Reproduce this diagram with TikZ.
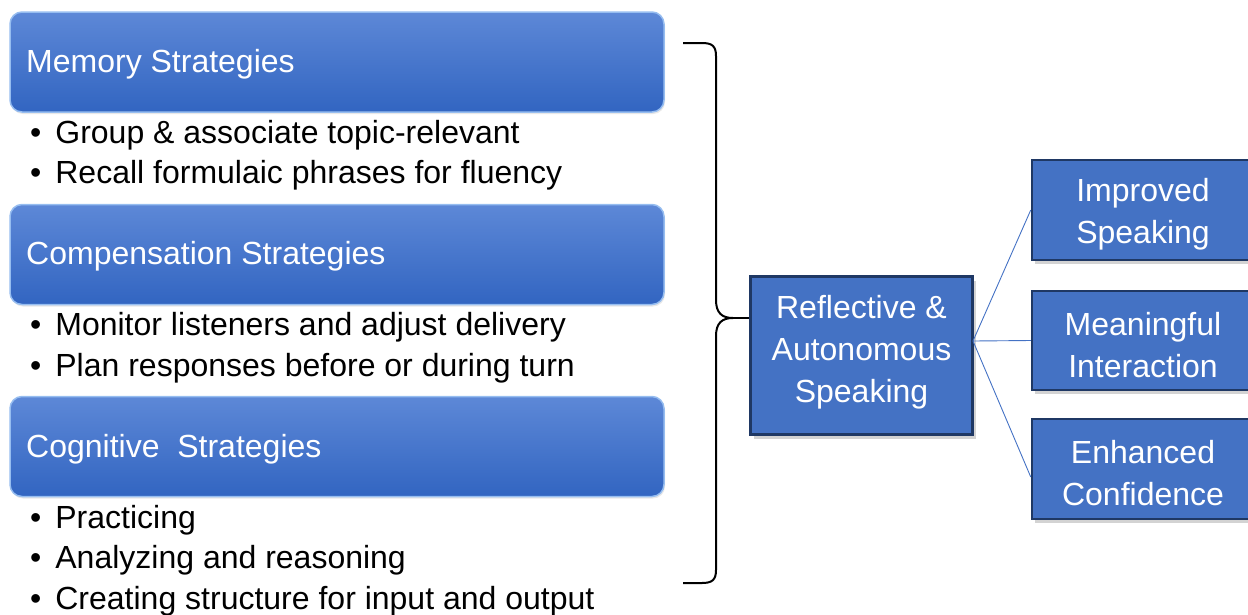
\documentclass[tikz,border=0pt]{standalone}
\usepackage{fontspec}
\setmainfont{Liberation Sans}
\usetikzlibrary{calc,shadows,fadings}
\definecolor{hdtop}{HTML}{5D88D7}
\definecolor{hdbot}{HTML}{3265C1}
\definecolor{hdrim}{HTML}{96BDF0}
\definecolor{accent}{HTML}{4472C4}
\definecolor{navy}{HTML}{1F3864}
\tikzset{
  header/.style={draw=hdrim, line width=1.5pt, rounded corners=12pt, top color=hdtop, bottom color=hdbot,
    minimum width=654pt, minimum height=100pt, inner sep=0pt,
    drop shadow={opacity=0.18, shadow xshift=1pt, shadow yshift=-2pt}},
  htext/.style={text=white, anchor=base west, inner sep=0pt, font=\fontsize{32}{36}\selectfont},
  btext/.style={text=black, anchor=base west, inner sep=0pt, font=\fontsize{32}{36}\selectfont},
  outbox/.style={draw=navy, line width=2.5pt, fill=accent, inner sep=0pt,
    drop shadow={opacity=0.35, shadow xshift=3pt, shadow yshift=-4pt}},
  wtext/.style={text=white, align=center, inner sep=0pt, font=\fontsize{32}{42}\selectfont},
  link/.style={draw=accent, line width=0.9pt},
  bracestyle/.style={draw=black, line width=2pt, line join=round},
}
\begin{document}
\begin{tikzpicture}[x=1pt,y=-1pt]
\useasboundingbox (0,0) rectangle (1248,614);
% left headers
\node[header] (h1) at (337,62) {};
\node[header] (h2) at (337,254.5) {};
\node[header] (h3) at (337,446.5) {};
\node[htext] (h1t) at (26,72) {Memory Strategies};
\node[htext] (h2t) at (26,264) {Compensation Strategies};
\node[htext] (h3t) at (26,457) {Cognitive\ \ Strategies};
% bullets
\node[btext] (b1) at (30,143) {•\hspace{14pt}Group \& associate topic-relevant};
\node[btext] (b2) at (30,183) {•\hspace{14pt}Recall formulaic phrases for fluency};
\node[btext] (b3) at (30,335) {•\hspace{14pt}Monitor listeners and adjust delivery};
\node[btext] (b4) at (30,376) {•\hspace{14pt}Plan responses before or during turn};
\node[btext] (b5) at (30,528) {•\hspace{14pt}Practicing};
\node[btext] (b6) at (30,568) {•\hspace{14pt}Analyzing and reasoning};
\node[btext] (b7) at (30,609) {•\hspace{14pt}Creating structure for input and output};
% central box
\fill[white] (757,434) rectangle (963,443);
\node[outbox, minimum width=222pt, minimum height=158pt] (rs) at (861.5,355.5) {};
\node[wtext] (rst) at (861.5,352) {Reflective \&\\Autonomous\\Speaking};
% right boxes
\node[outbox, minimum width=222pt, minimum height=100pt] (o1) at (1143,210) {};
\node[outbox, minimum width=222pt, minimum height=99pt] (o2) at (1143,340.5) {};
\node[outbox, minimum width=222pt, minimum height=100pt] (o3) at (1143,469) {};
\node[wtext] (o1t) at (1143,214) {Improved\\Speaking};
\node[wtext] (o2t) at (1143,345) {Meaningful\\Interaction};
\node[wtext] (o3t) at (1143,473) {Enhanced\\Confidence};
% connectors
\coordinate (src) at (973,341);
\draw[link] (src) -- (o1.west);
\draw[link] (src) -- (o2.west);
\draw[link] (src) -- ($(o3.west)+(0,8)$);
% brace
\coordinate (bt) at (683,43);
\coordinate (bb) at (683,583);
\coordinate (tip) at (733,318);
\draw[bracestyle] (bt) -- (702,43) .. controls (712,43) and (716,46) .. (716,56)
  -- (716,300) .. controls (716,313) and (722,318) .. (tip)
  .. controls (722,318) and (716,323) .. (716,336)
  -- (716,570) .. controls (716,580) and (712,583) .. (702,583) -- (bb);
\draw[bracestyle] (tip) -- (tip -| rs.west);
\end{tikzpicture}
\end{document}
